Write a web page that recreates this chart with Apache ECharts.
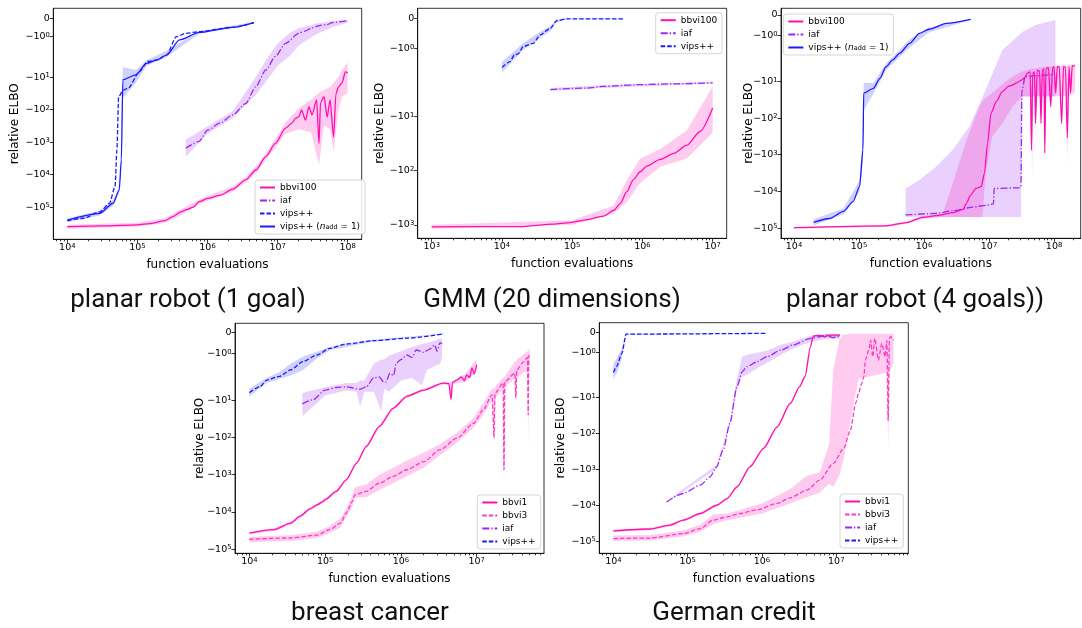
<!DOCTYPE html>
<html>
<head>
<meta charset="utf-8">
<script src="https://cdn.jsdelivr.net/npm/echarts@6/dist/echarts.min.js"></script>
<style>
html,body{margin:0;padding:0;background:#fff;}
#chart{width:1082px;height:628px;}
</style>
</head>
<body>
<div id="chart"></div>
<script>
// ---------------- data: [function evaluations, relative ELBO] ----------------
// bands: [function evaluations, lower, upper]

// planar robot (1 goal)
const robot1Bbvi100 = [[1e4,-4.0e5],[3.2e4,-3.8e5],[1e5,-3.5e5],[1.5e5,-3.2e5],[2.5e5,-2.6e5],[3.2e5,-1.95e5],[4.2e5,-1.4e5],[5e5,-1.2e5],[6.3e5,-1.0e5],[7.6e5,-6.8e4],[1e6,-5.4e4],[1.5e6,-4.3e4],[2.3e6,-2.8e4],[3.5e6,-1.45e4],[4.9e6,-7.2e3],[6.8e6,-2.8e3],[9.3e6,-1.1e3],[1.3e7,-370],[1.6e7,-260],[1.8e7,-186],[2.0e7,-166],[2.2e7,-102],[2.5e7,-210],[2.8e7,-81],[3.1e7,-145],[3.6e7,-50],[3.9e7,-1100],[4.1e7,-60],[4.6e7,-40],[5.1e7,-170],[5.6e7,-50],[6.3e7,-700],[6.8e7,-32],[7.4e7,-20],[8.3e7,-15],[9.3e7,-6.8],[1e8,-7.5]];
const robot1Bbvi100Band = [[1e4,-4.6e5,-3.5e5],[1e5,-4.0e5,-3.0e5],[2.5e5,-3.0e5,-2.2e5],[3.2e5,-2.4e5,-1.6e5],[5e5,-1.45e5,-0.95e5],[7.6e5,-8e4,-5.8e4],[1e6,-6.5e4,-4.5e4],[2.3e6,-3.4e4,-2.3e4],[3.5e6,-1.75e4,-1.2e4],[4.9e6,-9e3,-5.5e3],[6.8e6,-3.5e3,-2.2e3],[9.3e6,-1.5e3,-800],[1.3e7,-550,-250],[2e7,-400,-90],[3e7,-500,-50],[3.9e7,-5000,-30],[4.6e7,-300,-25],[5.6e7,-400,-20],[6.3e7,-2000,-15],[7.4e7,-100,-10],[8.3e7,-40,-6],[1e8,-30,-3.5]];
const robot1Iaf = [[4.9e5,-1550],[7.6e5,-950],[1e6,-430],[1.5e6,-260],[2.3e6,-145],[3.5e6,-65],[4.9e6,-19.5],[6.8e6,-6],[9.3e6,-2.3],[1.3e7,-1.39],[2e7,-0.83],[2.5e7,-0.7],[3e7,-0.55],[3.5e7,-0.46],[4.2e7,-0.38],[5e7,-0.36],[6e7,-0.24],[7e7,-0.22],[8e7,-0.18],[1e8,-0.13]];
const robot1IafBand = [[4.9e5,-2800,-850],[1e6,-550,-330],[2.3e6,-180,-110],[4.9e6,-35,-10],[6.8e6,-14,-3],[1e7,-4.5,-1.4],[1.5e7,-2.2,-0.8],[2e7,-1.5,-0.55],[3.5e7,-0.9,-0.3],[6e7,-0.5,-0.15],[1e8,-0.25,-0.08]];
const robot1Vips = [[1e4,-2.6e5],[1.7e4,-2.2e5],[2.9e4,-1.4e5],[4e4,-7.6e4],[4.8e4,-2.3e4],[5.1e4,-1700],[5.4e4,-40],[6.3e4,-25],[7.4e4,-22],[1.07e5,-6.8],[1.4e5,-3.3],[1.9e5,-2.95],[2.6e5,-2.1],[3.6e5,-1.02],[4.9e5,-0.83],[7.6e5,-0.74],[2.3e6,-0.5],[4.6e6,-0.24]];
const robot1VipsN1 = [[1e4,-2.5e5],[2.9e4,-1.55e5],[4.5e4,-7.6e4],[5.5e4,-3e4],[5.9e4,-3500],[6.2e4,-12],[9.5e4,-8.5],[1.35e5,-3.8],[1.9e5,-2.95],[2.6e5,-2.1],[4e5,-1.2],[7.6e5,-0.78],[2.3e6,-0.5],[4.6e6,-0.24]];
const robot1VipsN1Band = [[1e4,-2.9e5,-2.2e5],[2.9e4,-1.8e5,-1.3e5],[4.5e4,-9e4,-6e4],[5.5e4,-3.6e4,-2.5e4],[5.9e4,-5000,-2500],[6.2e4,-45,-5],[9.5e4,-15,-6],[1.35e5,-4.5,-3],[2.6e5,-2.4,-1.8],[7.6e5,-0.85,-0.7],[4.6e6,-0.28,-0.2]];

// GMM (20 dimensions)
const gmmBbvi100 = [[1e3,-1090],[1.8e4,-1080],[5.4e4,-970],[9.3e4,-910],[1.6e5,-810],[2.8e5,-690],[3.9e5,-540],[4.8e5,-410],[6e5,-245],[7.4e5,-148],[9.3e5,-105],[1.15e6,-83],[1.8e6,-62],[2.8e6,-48],[4.3e6,-34],[6.6e6,-19],[1e7,-7]];
const gmmBbvi100Band = [[1e3,-1180,-1000],[1e5,-1000,-830],[3.9e5,-620,-440],[6e5,-380,-150],[9.3e5,-170,-60],[1.8e6,-85,-40],[4.3e6,-60,-18],[1e7,-20,-2.8]];
const gmmIaf = [[4.9e4,-3.2],[1.6e5,-3.0],[2.8e5,-2.8],[8e5,-2.6],[3.2e6,-2.5],[1e7,-2.4]];
const gmmIafBand = [[4.9e4,-3.4,-3.0],[2.8e5,-3.0,-2.65],[1e7,-2.5,-2.3]];
const gmmVips = [[1e4,-1.63],[1.3e4,-1.44],[1.5e4,-1.22],[1.7e4,-1.18],[2e4,-0.94],[2.8e4,-0.83],[3.5e4,-0.55],[4.9e4,-0.33],[6e4,-0.08],[8.3e4,-0.02],[5.4e5,-0.02]];
const gmmVipsBand = [[1e4,-1.8,-1.45],[2e4,-1.05,-0.83],[3.5e4,-0.65,-0.45],[4.9e4,-0.42,-0.25],[6e4,-0.12,-0.04],[8.3e4,-0.03,-0.01],[5.4e5,-0.03,-0.01]];

// planar robot (4 goals)
const robot4Bbvi100 = [[1e4,-9.8e4],[2.6e5,-8.7e4],[5.4e5,-7.1e4],[9.5e5,-5.1e4],[1.7e6,-4.5e4],[2.8e6,-3.8e4],[4e6,-3.1e4],[4.5e6,-2.1e4],[5.2e6,-1.26e4],[6.3e6,-8300],[7.6e6,-7400],[8.5e6,-3200],[9.5e6,-490],[1.07e7,-74],[1.3e7,-35],[1.6e7,-19],[2e7,-13.5],[2.3e7,-12.6],[2.6e7,-11.2],[3.2e7,-9.1],[3.5e7,-8],[3.9e7,-6],[4.3e7,-5.5],[4.5e7,-750],[4.7e7,-6],[5e7,-5.5],[5.2e7,-140],[5.5e7,-5],[6e7,-5.2],[6.3e7,-140],[6.6e7,-5],[7e7,-4.6],[7.2e7,-900],[7.5e7,-4.5],[8.2e7,-4.2],[8.9e7,-49],[9.5e7,-4.2],[1e8,-4.0],[1.06e8,-21],[1.12e8,-4.0],[1.2e8,-3.9],[1.31e8,-140],[1.4e8,-3.9],[1.5e8,-4.2],[1.6e8,-350],[1.7e8,-4.0],[1.8e8,-21],[1.9e8,-3.8],[2.1e8,-3.8]];
const robot4Bbvi100Band = [[1e4,-1.05e5,-9.3e4],[2.6e5,-9.3e4,-8.2e4],[5.4e5,-7.6e4,-6.6e4],[9.5e5,-5.6e4,-4.7e4],[1.95e6,-5e4,-4e4],[3.1e6,-5e4,-3200],[4.5e6,-5e4,-400],[7.1e6,-5e4,-49],[7.9e6,-4.9e4,-35],[8.9e6,-3200,-28],[1.12e7,-320,-21],[1.6e7,-140,-12],[2.3e7,-49,-7.4],[3.2e7,-26,-5.5],[4.4e7,-26,-4.5],[4.6e7,-4400,-4.5],[4.8e7,-25,-4.5],[7.2e7,-25,-4],[7.4e7,-830,-4],[7.6e7,-25,-4],[1.55e8,-25,-3.6],[1.6e8,-1900,-3.5],[1.65e8,-25,-3.5],[2.1e8,-20,-3.4]];
const robot4Iaf = [[5.2e5,-4.4e4],[1.55e6,-4e4],[2.75e6,-3.4e4],[5.6e6,-2.7e4],[8.9e6,-2.4e4],[1.17e7,-2.2e4],[1.2e7,-8300],[2.9e7,-8000],[3.1e7,-7400],[3.2e7,-19],[3.6e7,-7.4],[5.2e7,-7],[9.3e7,-6.6],[1e8,-6.5]];
const robot4IafBand = [[5.2e5,-5e4,-8300],[8.5e5,-5e4,-4900],[1.55e6,-5e4,-2100],[2.75e6,-5e4,-740],[5e6,-5e4,-170],[8.9e6,-5e4,-17],[1.6e7,-5e4,-1.72],[3.1e7,-5e4,-0.9],[3.2e7,-26,-0.85],[5.2e7,-26,-0.49],[1.05e8,-26,-0.25]];
const robot4VipsN1 = [[2e4,-7e4],[3.5e4,-5.5e4],[5.8e4,-3.5e4],[8.1e4,-1.9e4],[1.02e5,-7400],[1.15e5,-740],[1.18e5,-21],[1.66e5,-15.5],[2.1e5,-8.3],[2.6e5,-4],[3.3e5,-2.6],[4.2e5,-1.88],[6e5,-1.39],[8.5e5,-0.9],[1.2e6,-0.7],[2.2e6,-0.41],[5.2e6,-0.21]];
const robot4VipsN1Band = [[2e4,-8.5e4,-5.8e4],[5.8e4,-4.2e4,-2.9e4],[1.02e5,-1e4,-5e3],[1.15e5,-1500,-300],[1.18e5,-60,-11],[1.66e5,-22,-11],[2.6e5,-5,-3.3],[6e5,-1.6,-1.2],[1.2e6,-0.85,-0.6],[5.2e6,-0.25,-0.18]];

// breast cancer
const cancerBbvi1 = [[1e4,-3.7e4],[2.1e4,-3e4],[3.5e4,-2e4],[4.7e4,-1.3e4],[6.3e4,-8300],[7.8e4,-6500],[9.5e4,-5200],[1.0e5,-4700],[1.4e5,-2800],[1.9e5,-1380],[2.6e5,-490],[3.5e5,-174],[5.2e5,-51],[7.9e5,-16.6],[1.2e6,-7.9],[2e6,-5.4],[3.6e6,-3.5],[4.3e6,-3.6],[4.6e6,-9.5],[4.8e6,-3.4],[5.5e6,-2.9],[6.3e6,-2.4],[6.9e6,-3.0],[7.4e6,-2.1],[8.1e6,-2.5],[8.7e6,-1.7],[9.3e6,-2.0],[1e7,-1.56]];
const cancerBbvi1Band = [[1e4,-4e4,-3.4e4],[2.1e4,-3.3e4,-2.75e4],[3.5e4,-2.2e4,-1.8e4],[4.7e4,-1.45e4,-1.18e4],[6.3e4,-9200,-7500],[7.8e4,-7200,-5900],[1e5,-5200,-4250],[1.4e5,-3100,-2550],[1.9e5,-1530,-1250],[2.6e5,-540,-445],[3.5e5,-192,-158],[5.2e5,-56,-46],[7.9e5,-18.3,-15],[1.2e6,-8.7,-7.2],[2e6,-5.9,-4.9],[3.6e6,-3.8,-3.2],[4.3e6,-3.9,-3.3],[4.6e6,-12,-3.2],[4.8e6,-3.7,-3.1],[7e6,-3.3,-2],[1e7,-1.9,-1.3]];
const cancerBbvi3 = [[1e4,-5.4e4],[3.5e4,-5e4],[7.8e4,-4.2e4],[1.15e5,-3e4],[1.6e5,-2e4],[1.9e5,-1.07e4],[2.3e5,-5200],[2.45e5,-3500],[3.5e5,-2800],[5.2e5,-1700],[7.9e5,-1120],[1.2e6,-740],[2e6,-450],[3.3e6,-214],[5.5e6,-105],[9.1e6,-42],[1.23e7,-18],[1.6e7,-7.2],[1.7e7,-100],[1.75e7,-6.5],[2.24e7,-3.5],[2.3e7,-740],[2.36e7,-3.2],[3.2e7,-1.96],[3.3e7,-8.7],[3.4e7,-1.8],[4.2e7,-1.4],[4.7e7,-1.2],[4.8e7,-25],[4.9e7,-1.1],[5e7,-1.15]];
const cancerBbvi3Band = [[1e4,-6.5e4,-4.6e4],[3.5e4,-6e4,-4.2e4],[7.8e4,-5e4,-3.4e4],[1.15e5,-3.7e4,-2.4e4],[1.6e5,-2.6e4,-1.5e4],[1.9e5,-1.4e4,-8000],[2.3e5,-7000,-3500],[2.45e5,-4200,-2200],[3.5e5,-4000,-1800],[5.2e5,-2600,-1000],[7.9e5,-1700,-650],[1.2e6,-1100,-420],[2e6,-650,-260],[3.3e6,-300,-150],[5.5e6,-140,-75],[9.1e6,-55,-30],[1.23e7,-25,-12],[1.6e7,-10,-5],[1.7e7,-160,-5],[1.75e7,-9,-4.5],[2.24e7,-5,-2.5],[2.3e7,-900,-2.4],[2.36e7,-4.5,-2.3],[3.2e7,-2.6,-1.4],[3.3e7,-12,-1.4],[3.4e7,-2.5,-1.3],[4.7e7,-1.8,-0.9],[4.8e7,-180,-0.9],[4.9e7,-1.7,-0.8],[5e7,-1.6,-0.8]];
const cancerIaf = [[5e4,-12.6],[6.9e4,-9.8],[1e5,-5.4],[1.4e5,-4.6],[1.9e5,-4.4],[2.9e5,-5.1],[3.5e5,-4.4],[4.4e5,-2.5],[5.2e5,-2.4],[5.9e5,-3.2],[6.3e5,-3.3],[7.2e5,-1.96],[8e5,-2.2],[8.7e5,-1.48],[1e6,-1.3],[1.2e6,-1.08],[1.4e6,-1.2],[1.6e6,-0.84],[2e6,-0.95],[2.4e6,-0.8],[2.8e6,-0.6],[3e6,-0.9],[3.3e6,-0.48],[3.5e6,-0.55]];
const cancerIafBand = [[5e4,-27,-6.5],[1e5,-7.5,-4.5],[1.9e5,-5.5,-3.5],[2.6e5,-6,-3.5],[2.9e5,-15,-3],[3.3e5,-6,-3],[4.4e5,-6,-1.5],[5.5e5,-20,-1.3],[6e5,-5,-1.3],[7e5,-6,-1.1],[1e6,-3,-0.9],[1.4e6,-2.5,-0.7],[1.9e6,-4,-0.55],[2.2e6,-1.8,-0.5],[3.3e6,-1.5,-0.3],[3.5e6,-1.2,-0.3]];
const cancerVips = [[1e4,-6.3],[1.38e4,-4.4],[1.7e4,-2.9],[2.5e4,-2.3],[3.5e4,-1.8],[5.1e4,-1.4],[7.8e4,-1.08],[1.15e5,-0.76],[1.9e5,-0.55],[4.4e5,-0.39],[1.2e6,-0.27],[3.7e6,-0.06]];
const cancerVipsBand = [[1e4,-8,-5],[1.7e4,-3.4,-2.5],[2.5e4,-2.7,-1.9],[3.5e4,-2.2,-1.5],[5.1e4,-1.8,-1.15],[7.8e4,-1.25,-0.92],[1.15e5,-0.85,-0.68],[4.4e5,-0.43,-0.35],[3.7e6,-0.08,-0.04]];

// German credit
const germanBbvi1 = [[1e4,-5.2e4],[3.1e4,-4.6e4],[5.8e4,-3.6e4],[8.7e4,-2.6e4],[1.48e5,-1.7e4],[2.45e5,-1e4],[3.4e5,-6500],[4.6e5,-3100],[6.9e5,-850],[1.05e6,-260],[1.6e6,-65],[2.4e6,-14.5],[3.2e6,-5],[3.8e6,-2.6],[4.5e6,-0.7],[4.9e6,-0.17],[6e6,-0.13],[7e6,-0.2],[8e6,-0.12],[1.12e7,-0.12]];
const germanBbvi1Band = [[1e4,-5.6e4,-4.8e4],[3.1e4,-5e4,-4.25e4],[5.8e4,-3.9e4,-3.3e4],[8.7e4,-2.8e4,-2.4e4],[1.48e5,-1.85e4,-1.57e4],[2.45e5,-1.09e4,-9200],[3.4e5,-7100,-6000],[4.6e5,-3400,-2850],[6.9e5,-930,-780],[1.05e6,-285,-238],[1.6e6,-71,-60],[2.4e6,-16,-13.3],[3.2e6,-5.5,-4.6],[3.8e6,-2.9,-2.35],[4.5e6,-0.8,-0.6],[4.9e6,-0.22,-0.13],[1.12e7,-0.2,-0.08]];
const germanBbvi3 = [[1e4,-8.5e4],[3.1e4,-8.2e4],[8.7e4,-6.2e4],[1.48e5,-4.5e4],[2.2e5,-2.6e4],[3.4e5,-2.1e4],[5e5,-1.7e4],[8.5e5,-1.35e4],[1.6e6,-8900],[2.4e6,-6200],[4e6,-3800],[6e6,-2000],[9.1e6,-690],[1.26e7,-260],[1.55e7,-81],[1.82e7,-14.5],[2e7,-7.6],[2.2e7,-4],[2.35e7,-2.6],[2.47e7,-1.37],[2.75e7,-0.87],[2.9e7,-0.37],[3.1e7,-1.2],[3.3e7,-0.28],[3.7e7,-1.37],[4.1e7,-0.54],[4.55e7,-1.2],[4.8e7,-0.4],[5e7,-43],[5.2e7,-0.3],[5.4e7,-0.2],[5.9e7,-0.37]];
const germanBbvi3Band = [[1e4,-1.0e5,-7e4],[3.1e4,-9.6e4,-6.8e4],[8.7e4,-7.4e4,-5.1e4],[1.48e5,-5.5e4,-3.5e4],[2.2e5,-3.4e4,-1.8e4],[3.4e5,-2.6e4,-1.7e4],[1e6,-1.7e4,-9000],[2.4e6,-9000,-3500],[4e6,-6000,-1500],[6e6,-4500,-1200],[8e6,-2500,-200],[9.1e6,-3100,-1.87],[1.1e7,-1500,-0.37],[1.25e7,-550,-0.1],[1.55e7,-43,-0.05],[1.7e7,-15,-0.05],[2e7,-3,-0.05],[4.8e7,-2,-0.05],[5e7,-235,-0.05],[5.2e7,-2,-0.05],[5.9e7,-1.5,-0.05]];
const germanIaf = [[5.2e4,-8100],[8.7e4,-4700],[1.48e5,-2750],[2e5,-1620],[2.45e5,-850],[3e5,-290],[3.7e5,-52],[4.6e5,-5],[5.4e5,-1.96],[6.3e5,-1.7],[8.5e5,-1.46],[1.17e6,-1.2],[1.8e6,-0.87],[2.6e6,-0.62],[4.5e6,-0.28],[6e6,-0.2],[7.4e6,-0.12],[9e6,-0.25],[1.12e7,-0.15]];
const germanIafBand = [[5.2e4,-8600,-7600],[2.45e5,-950,-760],[3.7e5,-60,-45],[4.6e5,-6,-3],[5.4e5,-2.6,-1.2],[6.3e5,-2.3,-1.1],[8.5e5,-1.8,-1.0],[1.17e6,-1.5,-0.9],[1.8e6,-1.1,-0.6],[2.6e6,-0.8,-0.45],[4.5e6,-0.45,-0.15],[7.4e6,-0.3,-0.05],[1.12e7,-0.3,-0.05]];
const germanVips = [[1e4,-2.0],[1.1e4,-1.7],[1.3e4,-1.04],[1.48e4,-0.07],[1.17e6,-0.03]];
const germanVipsBand = [[1e4,-2.9,-1.54],[1.1e4,-2.2,-1.3],[1.3e4,-1.3,-0.8],[1.48e4,-0.1,-0.05],[1.17e6,-0.04,-0.02]];

// panel captions
const captions = ['planar robot (1 goal)', 'GMM (20 dimensions)', 'planar robot (4 goals))', 'breast cancer', 'German credit'];

// ---------------- styles ----------------
const PINK = '#ff0fb0', PINK2 = '#ff3cc2', PURPLE = '#9b26f5', BLUE = '#1a1aff';
const PINK_FILL = 'rgba(255,0,175,0.2)', PURPLE_FILL = 'rgba(160,40,245,0.22)', BLUE_FILL = 'rgba(26,26,255,0.2)';
const DASH = [4.5, 2], DASHDOT = [7, 2, 1.3, 2];
const FONT = 'DejaVu Sans';

// symmetric log transform (linear for |v| <= 2, logarithmic outside)
const LINTHRESH = 2, LINSCALE_ADJ = 1 / (1 - 1 / 10);
function symlog(v) {
  const a = Math.abs(v);
  if (a <= LINTHRESH) return v * LINSCALE_ADJ;
  return Math.sign(v) * LINTHRESH * (LINSCALE_ADJ + Math.log10(a / LINTHRESH));
}

const panels = [
  { box: [53.3, 8.3, 308.4, 231], x: [3.8, 8.2], y: [-13.6, 0.615], yGap: 32, xGap: 20,
    legend: { left: 255, top: 180, names: ['bbvi100', 'iaf', 'vips++', 'vips++ (n_add = 1)'] },
    caption: [188, 300],
    lines: [
      { name: 'bbvi100', data: robot1Bbvi100, band: robot1Bbvi100Band, color: PINK, fill: PINK_FILL, dash: 'solid' },
      { name: 'iaf', data: robot1Iaf, band: robot1IafBand, color: PURPLE, fill: PURPLE_FILL, dash: DASHDOT },
      { name: 'vips++', data: robot1Vips, color: BLUE, dash: DASH },
      { name: 'vips++ (n_add = 1)', data: robot1VipsN1, band: robot1VipsN1Band, color: BLUE, fill: BLUE_FILL, dash: 'solid' }
    ] },
  { box: [417.7, 8.3, 309, 230], x: [2.8, 7.2], y: [-8.12, 0.37], yGap: 31.5, xGap: 20,
    legend: { left: 655.7, top: 12.7, names: ['bbvi100', 'iaf', 'vips++'] },
    caption: [552, 300],
    lines: [
      { name: 'bbvi100', data: gmmBbvi100, band: gmmBbvi100Band, color: PINK, fill: PINK_FILL, dash: 'solid' },
      { name: 'iaf', data: gmmIaf, band: gmmIafBand, color: PURPLE, fill: PURPLE_FILL, dash: DASHDOT },
      { name: 'vips++', data: gmmVips, band: gmmVipsBand, color: BLUE, fill: BLUE_FILL, dash: DASH }
    ] },
  { box: [781, 8.3, 299.7, 230], x: [3.8, 8.41], y: [-12.18, 0.365], yGap: 26.5, xGap: 20,
    legend: { left: 783.3, top: 14, names: ['bbvi100', 'iaf', 'vips++ (n_add = 1)'] },
    caption: [915, 300],
    lines: [
      { name: 'iaf', data: robot4Iaf, band: robot4IafBand, color: PURPLE, fill: PURPLE_FILL, dash: DASHDOT },
      { name: 'bbvi100', data: robot4Bbvi100, band: robot4Bbvi100Band, color: PINK, fill: PINK_FILL, dash: 'solid' },
      { name: 'vips++ (n_add = 1)', data: robot4VipsN1, band: robot4VipsN1Band, color: BLUE, fill: BLUE_FILL, dash: 'solid' }
    ] },
  { box: [235, 323.3, 309, 230], x: [3.81, 7.89], y: [-11.84, 0.5], yGap: 29, xGap: 20,
    legend: { left: 477.3, top: 495, names: ['bbvi1', 'bbvi3', 'iaf', 'vips++'] },
    caption: [370, 613],
    lines: [
      { name: 'bbvi1', data: cancerBbvi1, band: cancerBbvi1Band, color: PINK, fill: PINK_FILL, dash: 'solid' },
      { name: 'bbvi3', data: cancerBbvi3, band: cancerBbvi3Band, color: PINK2, fill: PINK_FILL, dash: DASH },
      { name: 'iaf', data: cancerIaf, band: cancerIafBand, color: PURPLE, fill: PURPLE_FILL, dash: DASHDOT },
      { name: 'vips++', data: cancerVips, band: cancerVipsBand, color: BLUE, fill: BLUE_FILL, dash: DASH }
    ] },
  { box: [599.3, 322.7, 309, 230.6], x: [3.81, 7.97], y: [-12.3, 0.56], yGap: 32, xGap: 20,
    legend: { left: 840, top: 494, names: ['bbvi1', 'bbvi3', 'iaf', 'vips++'] },
    caption: [734, 613],
    lines: [
      { name: 'bbvi1', data: germanBbvi1, band: germanBbvi1Band, color: PINK, fill: PINK_FILL, dash: 'solid' },
      { name: 'bbvi3', data: germanBbvi3, band: germanBbvi3Band, color: PINK2, fill: PINK_FILL, dash: DASH },
      { name: 'iaf', data: germanIaf, band: germanIafBand, color: PURPLE, fill: PURPLE_FILL, dash: DASHDOT },
      { name: 'vips++', data: germanVips, band: germanVipsBand, color: BLUE, fill: BLUE_FILL, dash: DASH }
    ] }
];

// ---------------- tick labels ----------------
const tickRich = {
  b: { fontFamily: FONT, fontSize: 9.5, color: '#000' },
  s: { fontFamily: FONT, fontSize: 6.8, lineHeight: 7, verticalAlign: 'top', color: '#000' }
};
function xLabel(v) { return '{b|10}{s|' + Math.round(v) + '}'; }
function yLabel(v) {
  if (Math.abs(v) < 1e-6) return '{b|0}';
  const k = Math.round(Math.log10(LINTHRESH) + (-v) / 2 - LINSCALE_ADJ);
  return '{b|\u221210}{s|' + k + '}';
}
function yTickValues(range) {
  const vals = [0, symlog(-1)];
  for (let k = 1; k <= 8; k++) vals.push(symlog(-Math.pow(10, k)));
  return vals.filter(v => v >= range[0] - 1e-6 && v <= range[1]);
}

// shaded spread between lower and upper curve, drawn as one polygon
function bandRenderer(fill) {
  return function (params, api) {
    if (params.dataIndexInside !== 0) return null;
    const n = params.dataInsideLength;
    const top = [], bot = [];
    for (let k = 0; k < n; k++) {
      const x = api.value(0, k);
      top.push(api.coord([x, api.value(2, k)]));
      bot.push(api.coord([x, api.value(1, k)]));
    }
    return { type: 'polygon', shape: { points: top.concat(bot.reverse()) }, style: { fill: fill } };
  };
}

const option = { animation: false, backgroundColor: '#fff', grid: [], xAxis: [], yAxis: [], series: [], legend: [], graphic: [] };

panels.forEach((p, i) => {
  option.grid.push({ left: p.box[0], top: p.box[1], width: p.box[2], height: p.box[3], show: true,
    borderColor: '#000', borderWidth: 0.8, backgroundColor: 'transparent' });

  const majors = [], minors = [];
  for (let k = Math.floor(p.x[0]); k <= Math.ceil(p.x[1]); k++) {
    if (k >= p.x[0] && k <= p.x[1]) majors.push(k);
    for (let m = 2; m <= 9; m++) {
      const v = k + Math.log10(m);
      if (v >= p.x[0] && v <= p.x[1]) minors.push(v);
    }
  }
  option.xAxis.push({
    type: 'value', gridIndex: i, position: 'bottom', min: p.x[0], max: p.x[1],
    axisLine: { show: true, onZero: false, lineStyle: { color: '#000', width: 0.8 } },
    axisTick: { show: true, customValues: majors, length: 3.5, lineStyle: { color: '#000', width: 0.8 } },
    axisLabel: { show: true, customValues: majors, formatter: xLabel, margin: 3.5, rich: tickRich },
    splitLine: { show: false },
    name: 'function evaluations', nameLocation: 'middle', nameGap: p.xGap,
    nameTextStyle: { fontFamily: FONT, fontSize: 12, color: '#000' }
  });
  option.xAxis.push({
    type: 'value', gridIndex: i, position: 'bottom', min: p.x[0], max: p.x[1],
    axisLine: { show: false, onZero: false },
    axisTick: { show: true, customValues: minors, length: 2, lineStyle: { color: '#000', width: 0.8 } },
    axisLabel: { show: false }, splitLine: { show: false }
  });
  const yt = yTickValues(p.y);
  option.yAxis.push({
    type: 'value', gridIndex: i, position: 'left', min: p.y[0], max: p.y[1],
    axisLine: { show: true, onZero: false, lineStyle: { color: '#000', width: 0.8 } },
    axisTick: { show: true, customValues: yt, length: 3.5, lineStyle: { color: '#000', width: 0.8 } },
    axisLabel: { show: true, customValues: yt, formatter: yLabel, margin: 3.5, rich: tickRich },
    splitLine: { show: false },
    name: 'relative ELBO', nameLocation: 'middle', nameGap: p.yGap, nameMoveOverlap: false,
    nameTextStyle: { fontFamily: FONT, fontSize: 12, color: '#000' }
  });

  p.lines.forEach(l => {
    if (!l.band) return;
    option.series.push({
      type: 'custom', xAxisIndex: 2 * i, yAxisIndex: i, clip: true, silent: true, z: 1,
      data: l.band.map(([x, lo, hi]) => [Math.log10(x), symlog(lo), symlog(hi)]),
      encode: { x: 0, y: [1, 2] },
      renderItem: bandRenderer(l.fill)
    });
  });
  p.lines.forEach(l => {
    option.series.push({
      type: 'line', name: l.name, xAxisIndex: 2 * i, yAxisIndex: i,
      data: l.data.map(([x, y]) => [Math.log10(x), symlog(y)]),
      symbol: 'none', showSymbol: false, silent: true, z: 3,
      smooth: 0.25, smoothMonotone: 'x',
      lineStyle: { color: l.color, width: 1.3, type: l.dash },
      itemStyle: { color: l.color }
    });
  });

  option.legend.push({
    data: p.legend.names, orient: 'vertical', left: p.legend.left, top: p.legend.top,
    itemWidth: 15, itemHeight: 8, itemGap: 4, padding: [3, 5, 3, 4],
    backgroundColor: 'rgba(255,255,255,0.85)', borderColor: '#cccccc', borderWidth: 0.8, borderRadius: 3,
    selectedMode: false,
    itemStyle: { opacity: 0 },
    textStyle: { fontFamily: FONT, fontSize: 9, color: '#000',
      rich: { i: { fontFamily: FONT, fontSize: 9, fontStyle: 'italic' },
              sub: { fontFamily: FONT, fontSize: 6.5, lineHeight: 6.5, verticalAlign: 'bottom' } } },
    formatter: n => n === 'vips++ (n_add = 1)' ? 'vips++ ({i|n}{sub|add} = 1)' : n
  });

  option.graphic.push({ type: 'text', x: p.caption[0], y: p.caption[1], silent: true,
    style: { text: captions[i], fontFamily: 'Roboto', fontSize: 26, fill: '#111', align: 'center', verticalAlign: 'middle' } });
});

const chart = echarts.init(document.getElementById('chart'), null, { renderer: 'canvas' });
chart.setOption(option);
</script>
</body>
</html>
